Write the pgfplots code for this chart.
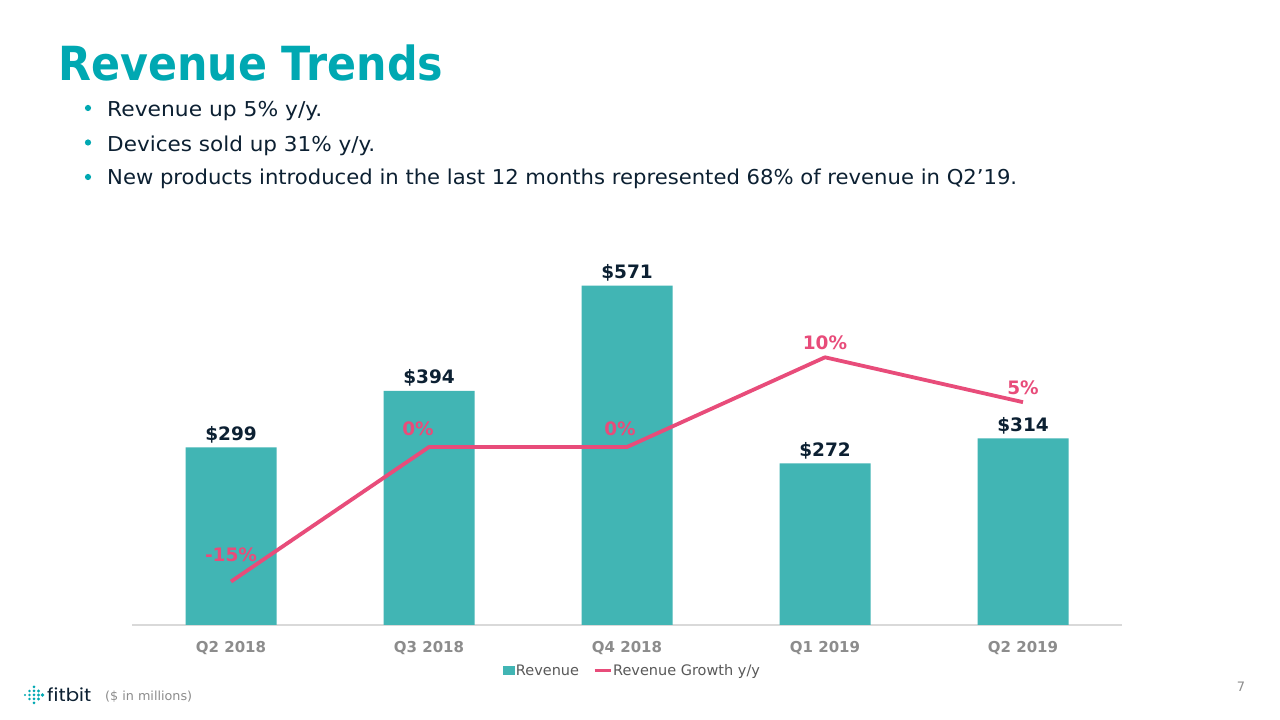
\documentclass[border=0pt]{standalone}
\usepackage{fontspec}
\setmainfont{DejaVu Sans}
\newfontfamily\poppins{Poppins}
\usepackage{graphicx}
\usepackage{pgfplots}
\pgfplotsset{compat=1.18}
\definecolor{titlec}{RGB}{0,168,178}
\definecolor{barc}{RGB}{65,181,180}
\definecolor{pinkc}{RGB}{232,76,122}
\definecolor{navy}{RGB}{12,32,50}
\definecolor{catgray}{RGB}{140,140,140}
\definecolor{leggray}{RGB}{89,89,89}
\definecolor{axgray}{RGB}{217,217,217}
\begin{document}
\begin{tikzpicture}
\path[fill=white] (0pt,0pt) rectangle (1280pt,720pt);
% title
\node[anchor=base west, inner sep=0, text=titlec] at (58pt,639pt) {\resizebox{385pt}{\height}{\fontsize{47}{50}\selectfont\bfseries Revenue Trends}};
% bullets
\fill[titlec] (88pt,612pt) circle (3.1pt);
\fill[titlec] (88pt,577.5pt) circle (3.1pt);
\fill[titlec] (88pt,543pt) circle (3.1pt);
\node[anchor=base west, inner sep=0, text=navy] at (107pt,603pt) {\resizebox{215pt}{\height}{\fontsize{20.5}{24}\selectfont Revenue up 5\% y/y.}};
\node[anchor=base west, inner sep=0, text=navy] at (107pt,568.3pt) {\resizebox{268pt}{\height}{\fontsize{20.5}{24}\selectfont Devices sold up 31\% y/y.}};
\node[anchor=base west, inner sep=0, text=navy] at (107pt,535pt) {\resizebox{910pt}{\height}{\fontsize{20.5}{24}\selectfont New products introduced in the last 12 months represented 68\% of revenue in Q2’19.}};

% bars
\begin{axis}[
  at={(132pt,95pt)}, anchor=south west,
  width=990pt, height=380pt, scale only axis,
  xmin=-0.5, xmax=4.5, ymin=0, ymax=639.5,
  axis y line=none, axis x line*=bottom,
  x axis line style={-, draw=axgray, line width=1.3pt},
  xtick={0,1,2,3,4},
  xticklabels={Q2 2018,Q3 2018,Q4 2018,Q1 2019,Q2 2019},
  major tick length=0pt,
  xticklabel style={font=\fontsize{15}{17}\selectfont\bfseries, text=catgray, anchor=base, yshift=-27.5pt},
  ytick=\empty,
  /pgf/number format/assume math mode=true,
  ybar, bar width=91pt,
  nodes near coords={\$\pgfmathprintnumber{\pgfplotspointmeta}},
  every node near coord/.append style={font=\fontsize{18.5}{20}\selectfont\bfseries, text=navy, anchor=base, yshift=7pt},
  legend columns=2,
  legend style={at={(0.505,-0.121)}, anchor=center, draw=none, fill=none,
    font=\fontsize{14.5}{16}\selectfont, text=leggray,
    nodes={inner sep=1pt},
    /tikz/every even column/.append style={column sep=13pt}},
]
\addplot[fill=barc, draw=none,
  legend image code/.code={\fill[barc] (0pt,-4.5pt) rectangle (12pt,4.5pt);}]
  coordinates {(0,299) (1,394) (2,571) (3,272) (4,314)};
\addlegendentry{Revenue}
\addlegendimage{legend image code/.code={\draw[pinkc, line width=3pt] (0pt,0pt) -- (16pt,0pt);}}
\addlegendentry{Revenue Growth y/y}
\end{axis}

% growth line
\begin{axis}[
  at={(132pt,95pt)}, anchor=south west,
  width=990pt, height=380pt, scale only axis,
  xmin=-0.5, xmax=4.5, ymin=-19.84, ymax=22.52,
  hide axis,
]
\addplot[pinkc, line width=3.8pt, line join=round, mark=none]
  coordinates {(0,-15) (1,0) (2,0) (3,10) (4,5)};
\node[anchor=base, text=pinkc, font=\fontsize{18.5}{20}\selectfont\bfseries, yshift=20.5pt] at (axis cs:0,-15) {-15\%};
\node[anchor=base, text=pinkc, font=\fontsize{18.5}{20}\selectfont\bfseries, xshift=-11pt, yshift=12pt] at (axis cs:1,0) {0\%};
\node[anchor=base, text=pinkc, font=\fontsize{18.5}{20}\selectfont\bfseries, xshift=-7pt, yshift=12pt] at (axis cs:2,0) {0\%};
\node[anchor=base, text=pinkc, font=\fontsize{18.5}{20}\selectfont\bfseries, yshift=8pt] at (axis cs:3,10) {10\%};
\node[anchor=base, text=pinkc, font=\fontsize{18.5}{20}\selectfont\bfseries, yshift=8pt] at (axis cs:4,5) {5\%};
\end{axis}

% footer logo
\fill[titlec] (25pt,25pt) circle (1.1pt);
\foreach \yy in {-4,0,4} {\fill[titlec] (29.5pt,25pt+\yy pt) circle (1.3pt);}
\foreach \yy in {-8,-4,0,4,8} {\fill[titlec] (34pt,25pt+\yy pt) circle (1.5pt);}
\foreach \yy in {-4,0,4} {\fill[titlec] (38.5pt,25pt+\yy pt) circle (1.7pt);}
\fill[titlec] (42.5pt,25pt) circle (1.8pt);
\node[anchor=base west, inner sep=0, text=navy] at (47pt,18pt) {\resizebox{44pt}{\height}{\poppins\fontsize{18}{20}\selectfont fitbit}};
\node[anchor=base west, inner sep=0, text=catgray] at (105pt,19pt) {\resizebox{87pt}{\height}{\fontsize{12.5}{14}\selectfont (\$ in millions)}};
\node[anchor=base, inner sep=0, text=catgray] at (1241pt,28pt) {\fontsize{13}{15}\selectfont 7};
\end{tikzpicture}
\end{document}
